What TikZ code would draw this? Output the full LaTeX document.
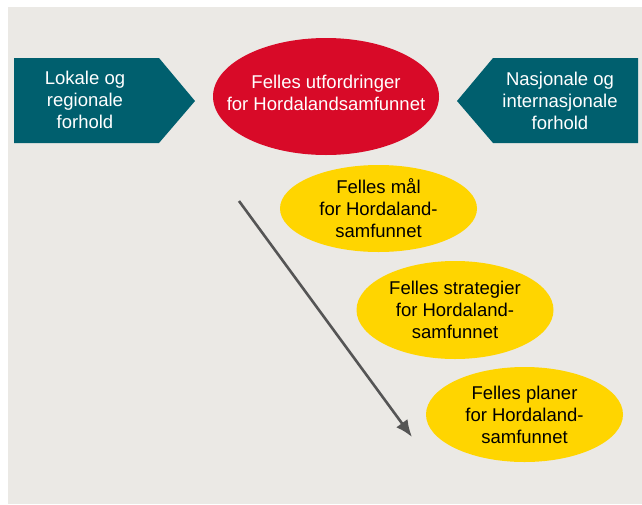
\documentclass[tikz,border=0pt]{standalone}
\usepackage{fontspec}
\setmainfont{Liberation Sans}
\usetikzlibrary{arrows.meta,shapes.geometric}
\definecolor{bggray}{HTML}{EBE9E5}
\definecolor{teal}{HTML}{005F6E}
\definecolor{redc}{HTML}{D80A28}
\definecolor{yellowc}{HTML}{FFD500}
\definecolor{arrowgray}{HTML}{555555}
\begin{document}
\begin{tikzpicture}[x=1pt,y=-1pt,
  lbl/.style={align=center,font=\fontsize{18.5}{22}\selectfont,inner sep=0pt},
  blob/.style={ellipse,draw=none,inner sep=0pt},
  goal/.style={blob,fill=yellowc,minimum width=197pt},
  flow/.style={draw=arrowgray,line width=2.6pt,-{Latex[length=17pt,width=14pt]}}]
\useasboundingbox (0,0) rectangle (642,504);
\fill[white] (0,0) rectangle (642,504);
\fill[bggray] (8,7) rectangle (642,504);
% left pentagon
\fill[teal] (14,58) -- (159,58) -- (195,101) -- (159,143) -- (14,143) -- cycle;
\node[lbl,text=white] (local) at (85,100) {Lokale og\\regionale\\forhold};
% right pentagon
\fill[teal] (638,58) -- (493,58) -- (457,101) -- (493,143) -- (638,143) -- cycle;
\node[lbl,text=white] (nat) at (560,101) {Nasjonale og\\internasjonale\\forhold};
% red ellipse
\node[blob,fill=redc,minimum width=226pt,minimum height=117pt] (chal) at (326,96.5) {};
\node[lbl,text=white] (chaltxt) at (326,93) {Felles utfordringer\\for Hordalandsamfunnet};
% yellow ellipses
\node[goal,minimum height=87pt] (goals) at (378.5,208.5) {};
\node[lbl] (goalstxt) at (goals.center) {Felles mål\\for Hordaland-\\samfunnet};
\node[goal,minimum height=98pt] (strat) at (455,310) {};
\node[lbl] (strattxt) at (strat.center) {Felles strategier\\for Hordaland-\\samfunnet};
\node[goal,minimum height=95pt] (plans) at (524.5,414.5) {};
\node[lbl] (planstxt) at (plans.center) {Felles planer\\for Hordaland-\\samfunnet};
% arrow
\coordinate (astart) at (239,201);
\coordinate (aend) at (412,437);
\draw[flow] (astart) -- (aend);
\end{tikzpicture}
\end{document}
